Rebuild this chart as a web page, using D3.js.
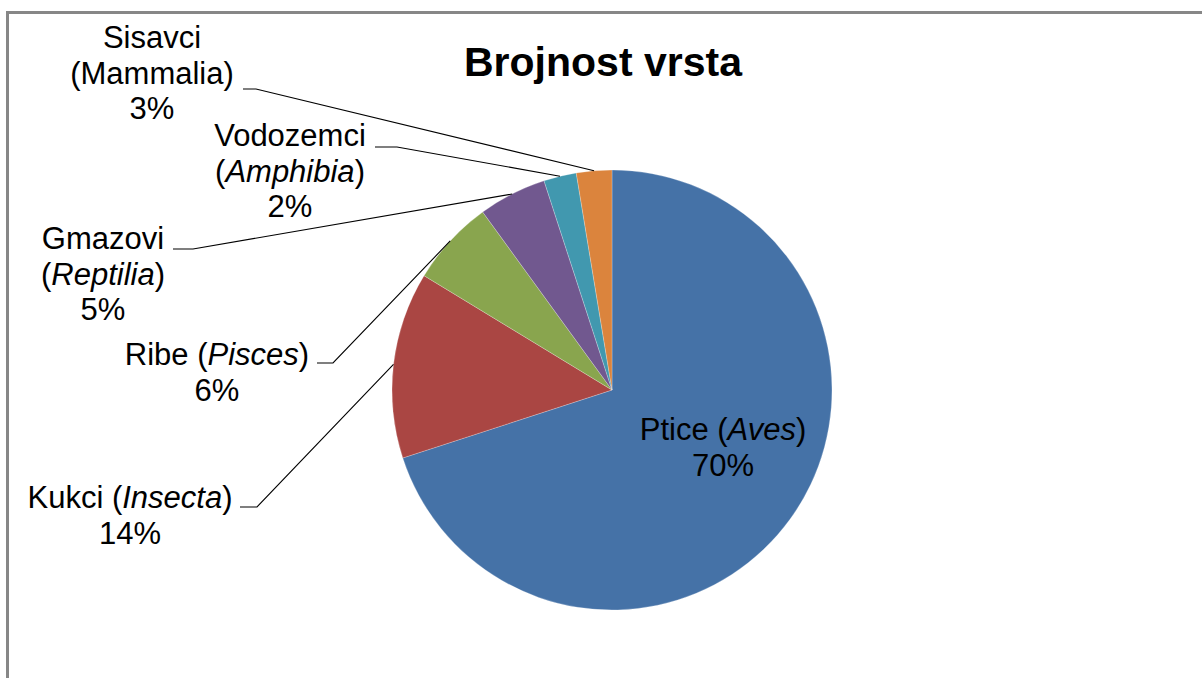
<!DOCTYPE html>
<html>
<head>
<meta charset="utf-8">
<script src="https://cdn.jsdelivr.net/npm/d3@7"></script>
<style>
  html, body { margin: 0; padding: 0; background: #fff; }
  svg { display: block; font-family: "Liberation Sans", Arial, sans-serif; }
</style>
</head>
<body>
<div id="chart"></div>
<script>
// data
const categories = ['Ptice', 'Kukci', 'Ribe', 'Gmazovi', 'Vodozemci', 'Sisavci'];
const latinNames = ['Aves', 'Insecta', 'Pisces', 'Reptilia', 'Amphibia', 'Mammalia'];
const shares = [70.0, 13.7, 6.3, 5.0, 2.4, 2.6];
const colors = ['#4572A7', '#AA4643', '#89A54E', '#71588F', '#4198AF', '#DB843D'];

// label placement (excel style, manually placed labels)
const labelLayout = {
  Ptice:     { x: 723, y: 440, split: false, italic: true,  leader: null },
  Kukci:     { x: 130, y: 508, split: false, italic: true,  leader: [240, 507, 257] },
  Ribe:      { x: 217, y: 365, split: false, italic: true,  leader: [317, 363, 333] },
  Gmazovi:   { x: 103, y: 249, split: true,  italic: true,  leader: [173, 249, 193] },
  Vodozemci: { x: 290, y: 146, split: true,  italic: true,  leader: [375, 147, 397] },
  Sisavci:   { x: 152, y: 48,  split: true,  italic: false, leader: [243, 89, 256] }
};

const width = 1202, height = 678;
const cx = 612, cy = 390, radius = 220;
const lineH = 35.5;

const data = categories.map((c, i) => ({ name: c, latin: latinNames[i], value: shares[i], color: colors[i] }));
const total = d3.sum(data, d => d.value);

const svg = d3.select('#chart')
  .append('svg')
  .attr('width', width)
  .attr('height', height);

// outer chart border
svg.append('rect')
  .attr('x', 7.5)
  .attr('y', 12.5)
  .attr('width', 1300)
  .attr('height', 800)
  .attr('fill', 'none')
  .attr('stroke', '#878787')
  .attr('stroke-width', 3);

svg.append('text')
  .attr('x', 603)
  .attr('y', 76)
  .attr('text-anchor', 'middle')
  .attr('font-size', 41)
  .attr('font-weight', 'bold')
  .attr('fill', '#000')
  .text('Brojnost vrsta');

const pie = d3.pie().sort(null).value(d => d.value);
const arc = d3.arc().innerRadius(0).outerRadius(radius);
const edge = d3.arc().innerRadius(radius).outerRadius(radius);
const arcs = pie(data);

const g = svg.append('g').attr('transform', `translate(${cx},${cy})`);

g.selectAll('path.slice')
  .data(arcs)
  .enter()
  .append('path')
  .attr('class', 'slice')
  .attr('d', arc)
  .attr('fill', d => d.data.color)
  .attr('stroke', '#fff')
  .attr('stroke-opacity', 0.4)
  .attr('stroke-width', 0.6);

// leader lines
arcs.forEach(d => {
  const lay = labelLayout[d.data.name];
  if (!lay.leader) return;
  const [x0, y0, x1] = lay.leader;
  const p = edge.centroid(d);
  svg.append('polyline')
    .attr('points', `${x0},${y0} ${x1},${y0} ${cx + p[0]},${cy + p[1]}`)
    .attr('fill', 'none')
    .attr('stroke', '#000')
    .attr('stroke-width', 1.1);
});

// labels
arcs.forEach(d => {
  const lay = labelLayout[d.data.name];
  const pct = Math.round(d.data.value / total * 100) + '%';
  const t = svg.append('text')
    .attr('text-anchor', 'middle')
    .attr('font-size', 31)
    .attr('fill', '#000');

  const lines = lay.split
    ? [[d.data.name], ['(', d.data.latin, ')'], [pct]]
    : [[d.data.name + ' (', d.data.latin, ')'], [pct]];

  lines.forEach((parts, li) => {
    parts.forEach((s, pi) => {
      const ts = t.append('tspan').text(s);
      if (pi === 0) ts.attr('x', lay.x).attr('y', lay.y + li * lineH);
      if (parts.length === 3 && pi === 1 && lay.italic) ts.attr('font-style', 'italic');
    });
  });
});
</script>
</body>
</html>
